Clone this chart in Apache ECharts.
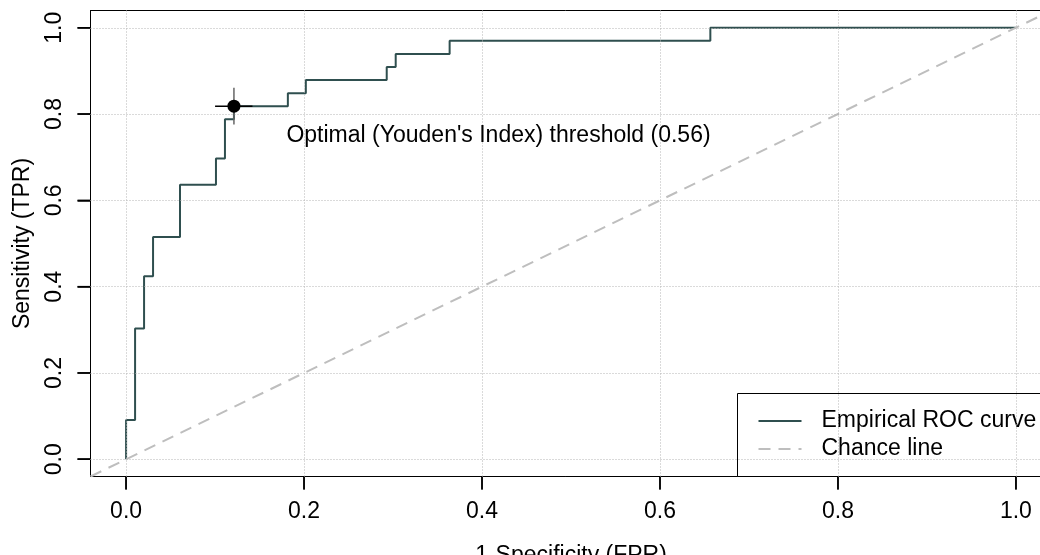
<!DOCTYPE html>
<html>
<head>
<meta charset="utf-8">
<title>Empirical ROC curve</title>
<script src="https://cdn.jsdelivr.net/npm/echarts@6.0.0/dist/echarts.min.js"></script>
<style>
  html, body { margin: 0; padding: 0; background: #fff; }
  #chart { width: 1040px; height: 555px; }
</style>
</head>
<body>
<div id="chart"></div>
<script>
// ROC curve corner points (FPR, TPR)
const rocFpr = [0, 0.0101, 0.0202, 0.0303, 0.0606, 0.1010, 0.1111, 0.1212, 0.1818, 0.2020, 0.2929, 0.3030, 0.3636, 0.6566, 1.0];
const rocTpr = [0, 0.0909, 0.3030, 0.4242, 0.5152, 0.6364, 0.6970, 0.7879, 0.8182, 0.8485, 0.8788, 0.9091, 0.9394, 0.9697, 1.0];

// optimal (Youden) point and its cross bars
const optimalPoint = [0.1212, 0.8182];
const optimalFprBar = [0.100, 0.142];
const optimalTprBar = [0.776, 0.861];

const axisRange = [-0.04, 1.04];
const tickValues = [0, 0.2, 0.4, 0.6, 0.8, 1.0];

const FONT = '"Liberation Sans", Arial, Helvetica, sans-serif';
const TICK_LEN = 13;

const chart = echarts.init(document.getElementById('chart'));

// outward tick marks, placed through the axes' own scales
const renderTick = (dir) => (params, api) => {
  const p = api.coord([api.value(0), api.value(1)]);
  const dx = dir === 'x' ? 0 : -TICK_LEN;
  const dy = dir === 'x' ? TICK_LEN : 0;
  return {
    type: 'line',
    shape: { x1: p[0], y1: p[1], x2: p[0] + dx, y2: p[1] + dy },
    style: { stroke: '#000', lineWidth: 1.5 }
  };
};

const option = {
  animation: false,
  textStyle: { fontFamily: FONT },
  grid: {
    left: 90.5,
    top: 10.5,
    width: 961,
    height: 466,
    outerBoundsMode: 'none', // keep the plot box where it is, even past the canvas edge
    show: true,
    borderColor: '#000'
  },
  legend: {
    data: ['Empirical ROC curve', 'Chance line'],
    orient: 'vertical',
    left: 737.5,
    top: 393.5,
    padding: [16, 40, 16, 20],
    itemWidth: 43,
    itemHeight: 14,
    itemGap: 5,
    selectedMode: false,
    backgroundColor: '#fff',
    borderColor: '#000',
    borderWidth: 1,
    borderRadius: 0,
    itemStyle: { opacity: 0 }, // line only, no marker
    textStyle: { fontSize: 23, color: '#000', fontFamily: FONT, padding: [0, 0, 0, 15] }
  },
  xAxis: {
    type: 'value',
    min: axisRange[0],
    max: axisRange[1],
    name: '1-Specificity (FPR)',
    nameLocation: 'middle',
    nameGap: 68,
    nameTextStyle: { fontSize: 23, color: '#000', fontFamily: FONT },
    axisLine: { show: true, onZero: false, lineStyle: { color: '#000', width: 1 } },
    axisTick: { show: true, length: TICK_LEN, customValues: tickValues, lineStyle: { color: '#000', width: 1.5 } },
    axisLabel: {
      customValues: tickValues,
      formatter: v => v.toFixed(1),
      margin: 24,
      fontSize: 23,
      color: '#000',
      fontFamily: FONT
    },
    splitLine: { show: false }
  },
  yAxis: {
    type: 'value',
    min: axisRange[0],
    max: axisRange[1],
    name: 'Sensitivity (TPR)',
    nameLocation: 'middle',
    nameGap: 56,
    nameTextStyle: { fontSize: 23, color: '#000', fontFamily: FONT },
    axisLine: { show: true, onZero: false, lineStyle: { color: '#000', width: 1 } },
    axisTick: { show: true, length: TICK_LEN, customValues: tickValues, lineStyle: { color: '#000', width: 1.5 } },
    axisLabel: {
      customValues: tickValues,
      formatter: v => v.toFixed(1),
      rotate: 90,
      margin: 24,
      fontSize: 23,
      color: '#000',
      fontFamily: FONT
    },
    splitLine: { show: false }
  },
  series: [
    {
      name: 'Empirical ROC curve',
      type: 'line',
      step: 'start',
      z: 2,
      showSymbol: false,
      symbol: 'none',
      data: rocFpr.map((x, i) => [x, rocTpr[i]]),
      lineStyle: { color: '#2f4f4f', width: 2 },
      itemStyle: { color: '#2f4f4f' }
    },
    {
      name: 'Chance line',
      type: 'line',
      z: 3,
      showSymbol: false,
      symbol: 'none',
      data: [[axisRange[0], axisRange[0]], [axisRange[1], axisRange[1]]],
      lineStyle: { color: '#bebebe', width: 2, type: [12, 8] },
      itemStyle: { color: '#bebebe' }
    },
    {
      // dotted grid, drawn over the curves like R's grid()
      name: 'grid',
      type: 'line',
      z: 4,
      data: [],
      markLine: {
        silent: true,
        symbol: ['none', 'none'],
        label: { show: false },
        lineStyle: { color: '#b4b4b4', width: 1, type: [1, 2] },
        data: tickValues.map(v => ({ xAxis: v })).concat(tickValues.map(v => ({ yAxis: v })))
      }
    },
    {
      name: 'x ticks',
      type: 'custom',
      silent: true,
      clip: false,
      z: 4,
      data: tickValues.map(v => [v, axisRange[0]]),
      renderItem: renderTick('x')
    },
    {
      name: 'y ticks',
      type: 'custom',
      silent: true,
      clip: false,
      z: 4,
      data: tickValues.map(v => [axisRange[0], v]),
      renderItem: renderTick('y')
    },
    {
      name: 'fpr bar',
      type: 'line',
      z: 5,
      showSymbol: false,
      symbol: 'none',
      data: optimalFprBar.map(x => [x, optimalPoint[1]]),
      lineStyle: { color: '#000', width: 1.5 }
    },
    {
      name: 'tpr bar',
      type: 'line',
      z: 5,
      showSymbol: false,
      symbol: 'none',
      data: optimalTprBar.map(y => [optimalPoint[0], y]),
      lineStyle: { color: '#666', width: 1.5 }
    },
    {
      name: 'optimal',
      type: 'scatter',
      z: 6,
      symbol: 'circle',
      symbolSize: 13,
      data: [optimalPoint],
      itemStyle: { color: '#000', opacity: 1 },
      label: {
        show: true,
        position: 'right',
        distance: 5,
        offset: [41, 29],
        formatter: "Optimal (Youden's Index) threshold (0.56)",
        fontSize: 23,
        color: '#000',
        fontFamily: FONT
      }
    }
  ]
};

chart.setOption(option);
</script>
</body>
</html>
